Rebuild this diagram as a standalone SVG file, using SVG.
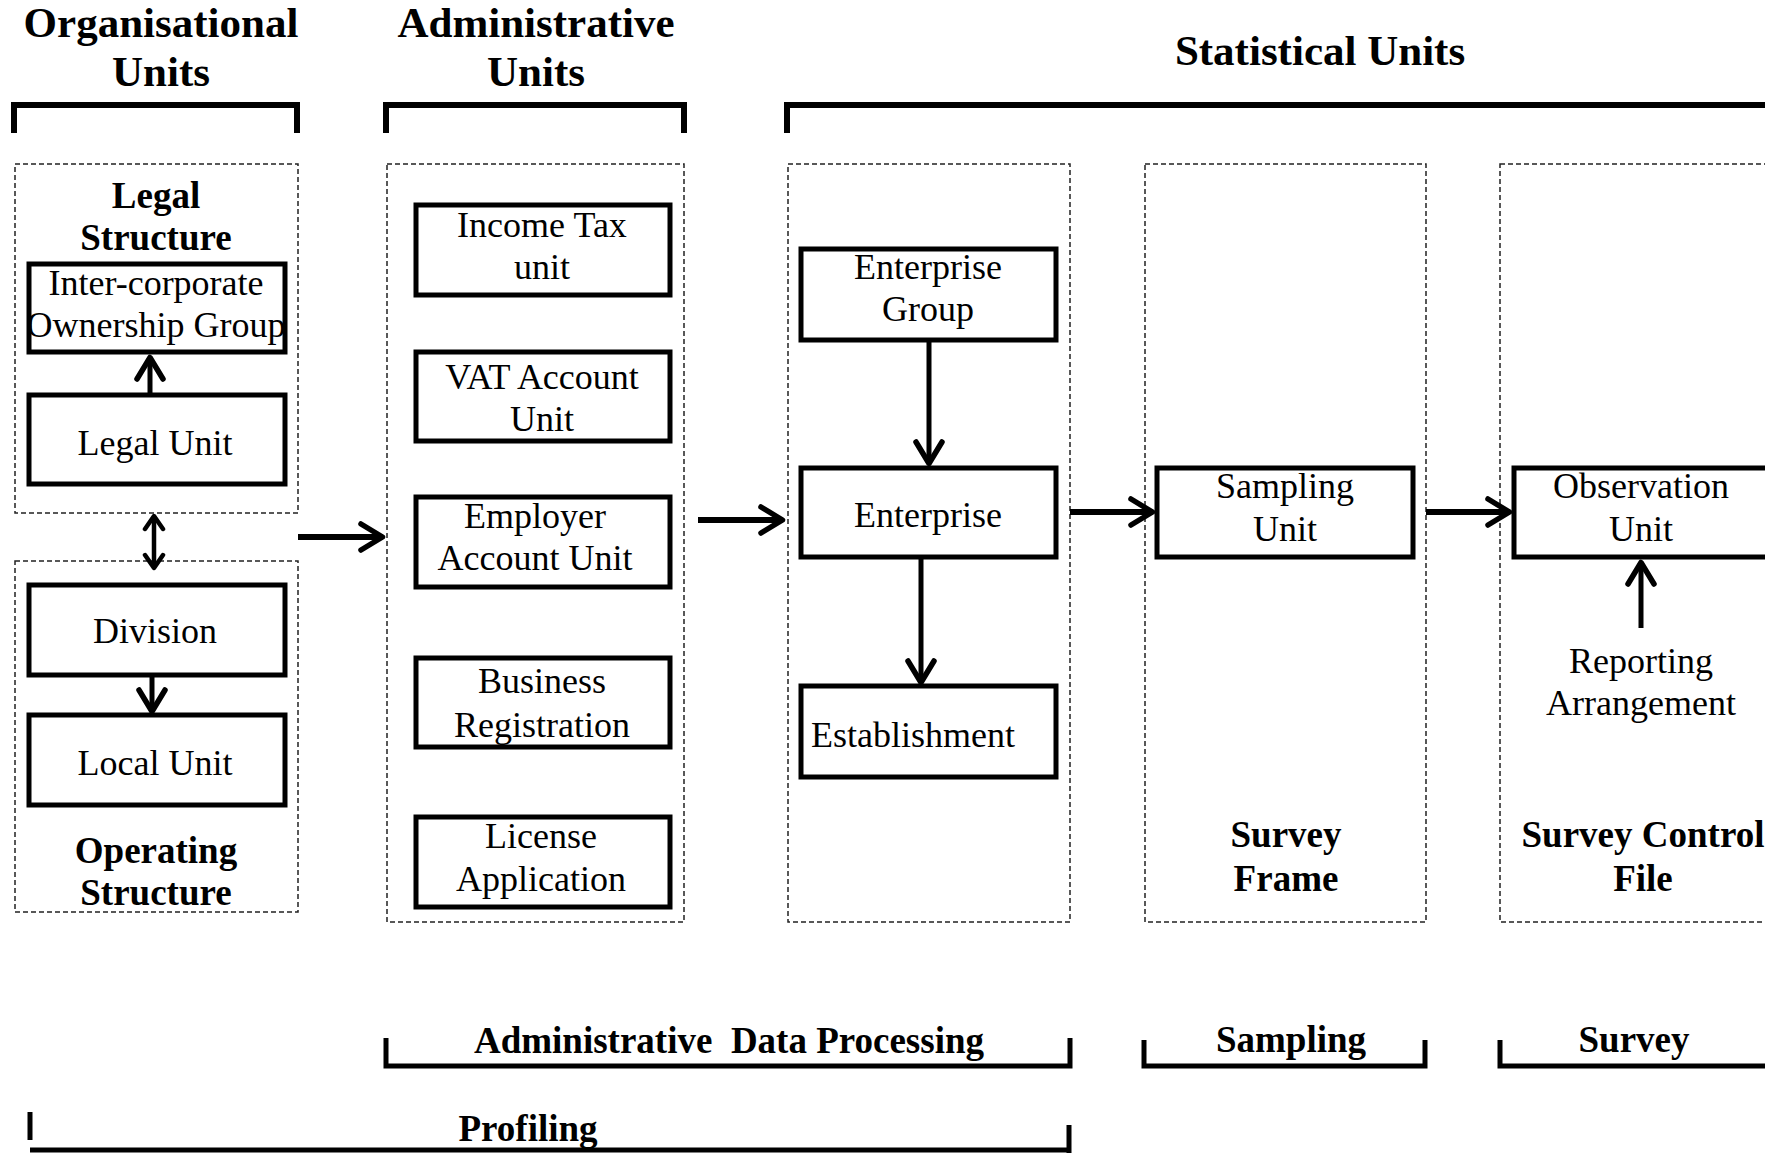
<svg xmlns="http://www.w3.org/2000/svg" width="1765" height="1153" viewBox="0 0 1765 1153">
<style>
.title{font-family:"Liberation Serif",serif;font-weight:bold;font-size:43px;text-anchor:middle;fill:#000}
.sec{font-family:"Liberation Serif",serif;font-weight:bold;font-size:37px;text-anchor:middle;fill:#000}
.lbl{font-family:"Liberation Serif",serif;font-size:36px;text-anchor:middle;fill:#000}
.box{fill:#fff;stroke:#000;stroke-width:5}
.boxf{fill:#fff;stroke:none}
.boxs{fill:none;stroke:#000;stroke-width:5}
.dash{fill:none;stroke:#222;stroke-width:1.5;stroke-dasharray:5 3}
.brk{fill:none;stroke:#000;stroke-width:6}
.brk2{fill:none;stroke:#000;stroke-width:5}
.con{fill:none;stroke:#000;stroke-width:6}
.conv{fill:none;stroke:#000;stroke-width:5}
.cons{fill:none;stroke:#000;stroke-width:4.5}
</style>
<defs>
<marker id="arr" markerUnits="userSpaceOnUse" viewBox="-30 -18 34 36" markerWidth="34" markerHeight="36" refX="-5" refY="0" orient="auto">
<path d="M-24,-13 L-2.5,0 L-24,13" fill="none" stroke="#000" stroke-width="5.5" stroke-linecap="round" stroke-linejoin="round"/>
</marker>
<marker id="arrs" markerUnits="userSpaceOnUse" viewBox="-20 -12 24 24" markerWidth="24" markerHeight="24" refX="-4" refY="0" orient="auto-start-reverse">
<path d="M-15,-9 L-2,0 L-15,9" fill="none" stroke="#000" stroke-width="4.5" stroke-linecap="round" stroke-linejoin="round"/>
</marker>
<clipPath id="clipIOG"><rect x="29" y="264" width="256" height="88"/></clipPath>
</defs>
<rect x="0" y="0" width="1765" height="1153" fill="#fff"/>

<g id="headers">
<text class="title" x="161" y="37">Organisational</text>
<text class="title" x="161" y="86">Units</text>
<text class="title" x="536" y="37">Administrative</text>
<text class="title" x="536" y="86">Units</text>
<text class="title" x="1320" y="65">Statistical Units</text>
<path class="brk" d="M14,133 V105 H297 V133"/>
<path class="brk" d="M386,133 V105 H684 V133"/>
<path class="brk" d="M787,133 V105 H1780"/>
</g>

<g id="legal-structure">
<rect class="dash" x="15" y="164" width="283" height="349"/>
<text class="sec" x="156" y="208">Legal</text>
<text class="sec" x="156" y="250">Structure</text>
</g>
<g id="operating-structure">
<rect class="dash" x="15" y="561" width="283" height="351"/>
<text class="sec" x="156" y="863">Operating</text>
<text class="sec" x="156" y="905">Structure</text>
</g>
<g id="admin-column"><rect class="dash" x="387" y="164" width="297" height="758"/></g>
<g id="enterprise-column"><rect class="dash" x="788" y="164" width="282" height="758"/></g>
<g id="survey-frame">
<rect class="dash" x="1145" y="164" width="281" height="758"/>
<text class="sec" x="1286" y="847">Survey</text>
<text class="sec" x="1286" y="891">Frame</text>
</g>
<g id="survey-control-file">
<rect class="dash" x="1500" y="164" width="300" height="758"/>
<text class="sec" x="1643" y="847">Survey Control</text>
<text class="sec" x="1643" y="891">File</text>
</g>

<g id="inter-corporate-ownership-group">
<rect class="boxf" x="29" y="264" width="256" height="88"/>
<g clip-path="url(#clipIOG)">
<text class="lbl" x="156" y="295">Inter-corporate</text>
<text class="lbl" x="156" y="337">Ownership Group</text>
</g>
<rect class="boxs" x="29" y="264" width="256" height="88"/>
</g>
<g id="legal-unit">
<rect class="box" x="29" y="395" width="256" height="89"/>
<text class="lbl" x="155" y="455">Legal Unit</text>
</g>
<g id="division">
<rect class="box" x="29" y="585" width="256" height="90"/>
<text class="lbl" x="155" y="643">Division</text>
</g>
<g id="local-unit">
<rect class="box" x="29" y="715" width="256" height="90"/>
<text class="lbl" x="155" y="775">Local Unit</text>
</g>

<g id="income-tax-unit">
<rect class="box" x="416" y="205" width="254" height="90"/>
<text class="lbl" x="542" y="237">Income Tax</text>
<text class="lbl" x="542" y="279">unit</text>
</g>
<g id="vat-account-unit">
<rect class="box" x="416" y="352" width="254" height="89"/>
<text class="lbl" x="542" y="389">VAT Account</text>
<text class="lbl" x="542" y="431">Unit</text>
</g>
<g id="employer-account-unit">
<rect class="box" x="416" y="497" width="254" height="90"/>
<text class="lbl" x="535" y="528">Employer</text>
<text class="lbl" x="535" y="570">Account Unit</text>
</g>
<g id="business-registration">
<rect class="box" x="416" y="658" width="254" height="89"/>
<text class="lbl" x="542" y="693">Business</text>
<text class="lbl" x="542" y="737">Registration</text>
</g>
<g id="license-application">
<rect class="box" x="416" y="817" width="254" height="90"/>
<text class="lbl" x="541" y="848">License</text>
<text class="lbl" x="541" y="891">Application</text>
</g>

<g id="enterprise-group">
<rect class="box" x="801" y="249" width="255" height="91"/>
<text class="lbl" x="928" y="279">Enterprise</text>
<text class="lbl" x="928" y="321">Group</text>
</g>
<g id="enterprise">
<rect class="box" x="801" y="468" width="255" height="89"/>
<text class="lbl" x="928" y="527">Enterprise</text>
</g>
<g id="establishment">
<rect class="box" x="801" y="686" width="255" height="91"/>
<text class="lbl" x="811" y="747" style="text-anchor:start">Establishment</text>
</g>
<g id="sampling-unit">
<rect class="box" x="1157" y="468" width="256" height="89"/>
<text class="lbl" x="1285" y="498">Sampling</text>
<text class="lbl" x="1285" y="541">Unit</text>
</g>
<g id="observation-unit">
<rect class="box" x="1514" y="468" width="300" height="89"/>
<text class="lbl" x="1641" y="498">Observation</text>
<text class="lbl" x="1641" y="541">Unit</text>
</g>
<g id="reporting-arrangement">
<text class="lbl" x="1641" y="673">Reporting</text>
<text class="lbl" x="1641" y="715">Arrangement</text>
</g>

<g id="connectors">
<path class="con" d="M298,537 H380" marker-end="url(#arr)"/>
<path class="con" d="M698,520 H780" marker-end="url(#arr)"/>
<path class="con" d="M1070,512 H1150" marker-end="url(#arr)"/>
<path class="con" d="M1426,512 H1507" marker-end="url(#arr)"/>
<path class="conv" d="M929,340 V461" marker-end="url(#arr)"/>
<path class="conv" d="M921,557 V680" marker-end="url(#arr)"/>
<path class="conv" d="M150,395 V360" marker-end="url(#arr)"/>
<path class="conv" d="M152,675 V709" marker-end="url(#arr)"/>
<path class="conv" d="M1641,628 V565" marker-end="url(#arr)"/>
<path class="cons" d="M154,518 V566" marker-start="url(#arrs)" marker-end="url(#arrs)"/>
</g>

<g id="process-brackets">
<path class="brk2" d="M386,1038 V1066 H1070 V1038"/>
<text class="sec" x="729" y="1053" style="white-space:pre">Administrative  Data Processing</text>
<path class="brk2" d="M1144,1040 V1066 H1425 V1040"/>
<text class="sec" x="1291" y="1052">Sampling</text>
<path class="brk2" d="M1500,1040 V1066 H1780"/>
<text class="sec" x="1634" y="1052">Survey</text>
<path class="brk2" d="M30,1112 V1140"/>
<path class="brk2" d="M30,1150 H1069 M1069,1125 V1153"/>
<text class="sec" x="528" y="1141">Profiling</text>
</g>
</svg>
